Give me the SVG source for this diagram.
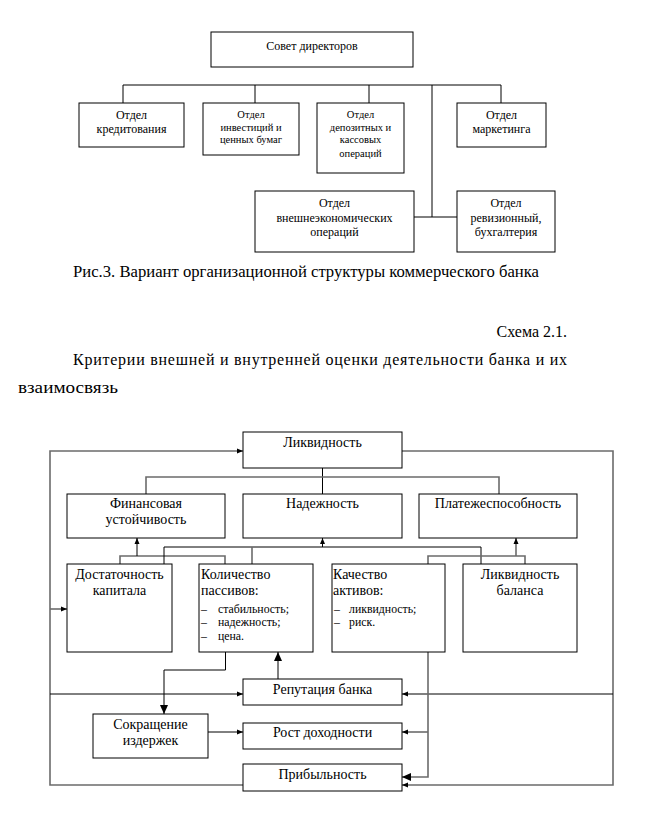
<svg xmlns="http://www.w3.org/2000/svg" width="645" height="826" viewBox="0 0 645 826" font-family="'Liberation Serif', 'DejaVu Serif', serif">
<style>
.box{fill:#fff;stroke:#000;stroke-width:1}
.t{fill:#000}
.c{text-anchor:middle}
.s12{font-size:12px}
.s10{font-size:10.5px}
.s11{font-size:12px}
.sl{font-size:11.8px}
.s14{font-size:14px}
.s16{font-size:16px}
.ln{fill:none;stroke:#000;stroke-width:1}
.gl{fill:none;stroke:#6b6b6b;stroke-width:1.6}
</style>
<defs>
<marker id="as" markerUnits="userSpaceOnUse" markerWidth="6" markerHeight="6" refX="6" refY="3" orient="auto"><path d="M0,0.5 L6,3 L0,5.5 z" fill="#000"/></marker>
<marker id="al" markerUnits="userSpaceOnUse" markerWidth="9" markerHeight="9" refX="9" refY="4.5" orient="auto"><path d="M0,0.5 L9,4.5 L0,8.5 z" fill="#000"/></marker>
</defs>
<rect width="645" height="826" fill="#fff"/>

<!-- Top org chart connectors -->
<g id="org-connectors">
<path class="ln" d="M123,103 V85 H501 V103"/>
<path class="ln" d="M255,85 V103"/>
<path class="ln" d="M369,85 V103"/>
<path class="ln" d="M432,85 V217"/>
<path class="ln" d="M414,217 H457"/>
</g>

<g id="sovet"><rect class="box" x="211" y="32" width="202" height="35"/><text class="t c s12" x="312" y="50">Совет директоров</text></g>
<g id="kredit"><rect class="box" x="79" y="103" width="105" height="44"/><text class="t c s12" x="131.5" y="119">Отдел</text><text class="t c s12" x="131.5" y="133">кредитования</text></g>
<g id="invest"><rect class="box" x="203" y="103" width="96" height="52"/><text class="t c s10" x="251" y="118">Отдел</text><text class="t c s10" x="251" y="130.5">инвестиций и</text><text class="t c s10" x="251" y="143">ценных бумаг</text></g>
<g id="depozit"><rect class="box" x="317" y="103" width="87" height="70"/><text class="t c s10" x="360.5" y="118">Отдел</text><text class="t c s10" x="360.5" y="130.5">депозитных и</text><text class="t c s10" x="360.5" y="143">кассовых</text><text class="t c s10" x="360.5" y="156.5">операций</text></g>
<g id="marketing"><rect class="box" x="457" y="103" width="89" height="44"/><text class="t c s12" x="501.5" y="119">Отдел</text><text class="t c s12" x="501.5" y="133">маркетинга</text></g>
<g id="ved"><rect class="box" x="255" y="191" width="159" height="61"/><text class="t c s11" x="334.5" y="206.5">Отдел</text><text class="t c s11" x="334.5" y="221.5">внешнеэкономических</text><text class="t c s11" x="334.5" y="236">операций</text></g>
<g id="reviz"><rect class="box" x="457" y="191" width="98" height="61"/><text class="t c s11" x="506" y="206.5">Отдел</text><text class="t c s11" x="506" y="221.5">ревизионный,</text><text class="t c s11" x="506" y="236">бухгалтерия</text></g>

<!-- Captions -->
<text class="t s16" x="73" y="276.5" textLength="466" lengthAdjust="spacingAndGlyphs">Рис.3. Вариант организационной структуры коммерческого банка</text>
<text class="t s16" x="567" y="337" text-anchor="end">Схема 2.1.</text>
<text class="t s16" x="73" y="365" textLength="494" lengthAdjust="spacing">Критерии внешней и внутренней оценки деятельности банка и их</text>
<text class="t s16" x="18" y="393" textLength="100" lengthAdjust="spacingAndGlyphs">взаимосвязь</text>

<!-- Bottom diagram connectors -->
<g id="connectors">
<path class="gl" d="M243,785 H50 V451 H243" marker-end="url(#as)"/>
<path class="gl" d="M50,609 H67" marker-end="url(#as)"/>
<path class="ln" d="M50,694 H243" marker-end="url(#as)"/>
<path class="gl" d="M402,451 H613 V785 H402" marker-end="url(#as)"/>
<path class="ln" d="M613,694 H402" marker-end="url(#as)"/>
<path class="ln" d="M322.5,468 V494"/>
<path class="gl" d="M146,494 V477 H499 V494"/>
<path class="gl" d="M120,564 V556 H225 V564"/>
<path class="ln" d="M137,556 V538" marker-end="url(#as)"/>
<path class="ln" d="M164,564 V547 H481 V564"/>
<path class="ln" d="M322.5,547 V538" marker-end="url(#as)"/>
<path class="gl" d="M252,547 V564"/>
<path class="gl" d="M428,564 V556 H525 V564"/>
<path class="gl" d="M516,556 V538" marker-end="url(#as)"/>
<path class="ln" d="M225.5,652 V670 H164 V714" marker-end="url(#al)"/>
<path class="ln" d="M278,679 V652" marker-end="url(#al)"/>
<path class="ln" d="M208,732 H243" marker-end="url(#as)"/>
<path class="gl" d="M428,652 V777 H402" marker-end="url(#al)"/>
<path class="gl" d="M428,732 H402" marker-end="url(#as)"/>
</g>

<g id="likvidnost"><rect class="box" x="243" y="432" width="159" height="36"/><text class="t c s14" x="322.5" y="447">Ликвидность</text></g>
<g id="fin-ust"><rect class="box" x="67" y="494" width="158" height="44"/><text class="t c s14" x="146" y="508">Финансовая</text><text class="t c s14" x="146" y="524">устойчивость</text></g>
<g id="nadezhnost"><rect class="box" x="243" y="494" width="159" height="44"/><text class="t c s14" x="322.5" y="508">Надежность</text></g>
<g id="platezh"><rect class="box" x="419" y="494" width="158" height="44"/><text class="t c s14" x="498" y="508">Платежеспособность</text></g>
<g id="dostatochnost"><rect class="box" x="67" y="564" width="105" height="88"/><text class="t c s14" x="119.5" y="578.5">Достаточность</text><text class="t c s14" x="119.5" y="595">капитала</text></g>
<g id="kolichestvo"><rect class="box" x="199" y="564" width="114" height="88"/><text class="t s14" x="201" y="578.5">Количество</text><text class="t s14" x="201" y="595">пассивов:</text><text class="t sl" x="201" y="613">–</text><text class="t sl" x="218" y="613">стабильность;</text><text class="t sl" x="201" y="626">–</text><text class="t sl" x="218" y="626">надежность;</text><text class="t sl" x="201" y="640">–</text><text class="t sl" x="218" y="640">цена.</text></g>
<g id="kachestvo"><rect class="box" x="332" y="564" width="113" height="88"/><text class="t s14" x="333" y="578.5">Качество</text><text class="t s14" x="333" y="595">активов:</text><text class="t sl" x="334" y="613">–</text><text class="t sl" x="349" y="613">ликвидность;</text><text class="t sl" x="334" y="626">–</text><text class="t sl" x="349" y="626">риск.</text></g>
<g id="likv-balans"><rect class="box" x="463" y="564" width="114" height="88"/><text class="t c s14" x="520" y="578.5">Ликвидность</text><text class="t c s14" x="520" y="595">баланса</text></g>
<g id="reputacia"><rect class="box" x="243" y="679" width="159" height="26"/><text class="t c s14" x="322.5" y="693.5">Репутация банка</text></g>
<g id="sokrashenie"><rect class="box" x="93" y="714" width="115" height="44"/><text class="t c s14" x="150.5" y="728.5">Сокращение</text><text class="t c s14" x="150.5" y="745">издержек</text></g>
<g id="rost"><rect class="box" x="243" y="723" width="159" height="26"/><text class="t c s14" x="322.5" y="737">Рост доходности</text></g>
<g id="pribyl"><rect class="box" x="243" y="764" width="159" height="27"/><text class="t c s14" x="322.5" y="778.5">Прибыльность</text></g>
</svg>
